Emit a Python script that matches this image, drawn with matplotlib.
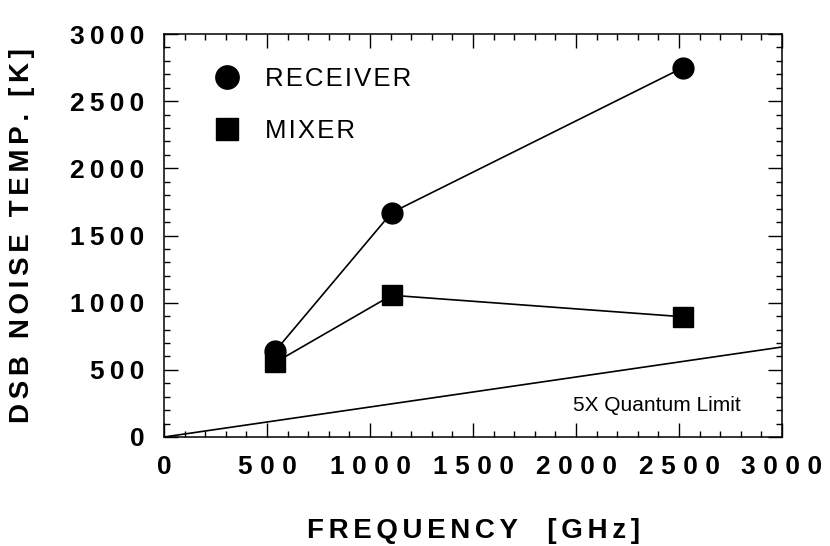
import matplotlib
matplotlib.use("Agg")
import matplotlib.pyplot as plt
from matplotlib.ticker import MultipleLocator, FuncFormatter

# ---- data ----
freq = [540, 1105, 2520]               # GHz
receiver_temp = [640, 1670, 2750]      # K
mixer_temp = [555, 1055, 895]          # K
quantum_freq = [0, 3000]
quantum_temp = [0, 670]                # 5X quantum limit
xlabel = "FREQUENCY  [GHz]"
ylabel = "DSB NOISE TEMP. [K]"
legend_labels = ["RECEIVER", "MIXER"]
quantum_label = "5X Quantum Limit"

THIN = "\u2009"
HAIR = "\u200a"
SIXPM = "\u2006"


def spaced(s, sep=THIN):
    return sep.join(list(s))


plt.rcParams['font.family'] = ['Liberation Sans', 'DejaVu Sans']

fig = plt.figure(figsize=(8.30, 5.46), dpi=100)
ax = fig.add_axes([164 / 830, 1 - 437 / 546, 618 / 830, 403 / 546])

ax.plot(freq, receiver_temp, '-', color='black', lw=1.2, zorder=2)
ax.plot(freq, mixer_temp, '-', color='black', lw=1.2, zorder=2)
h1, = ax.plot(freq, receiver_temp, 'o', color='black', ms=15, zorder=3,
              label=spaced(legend_labels[0], HAIR))
h2, = ax.plot(freq, mixer_temp, 's', color='black', ms=14, zorder=3,
              label=spaced(legend_labels[1], HAIR))
ax.plot(quantum_freq, quantum_temp, '-', color='black', lw=1.2, zorder=2)

ax.text(1985, 231, quantum_label, fontsize=15, va='center', ha='left')

ax.set_xlim(0, 3000)
ax.set_ylim(0, 3000)
ax.xaxis.set_major_locator(MultipleLocator(500))
ax.xaxis.set_minor_locator(MultipleLocator(100))
ax.yaxis.set_major_locator(MultipleLocator(500))
ax.yaxis.set_minor_locator(MultipleLocator(100))

ax.xaxis.set_major_formatter(FuncFormatter(lambda v, p: spaced(str(int(round(v))), THIN + HAIR)))
ax.yaxis.set_major_formatter(FuncFormatter(lambda v, p: spaced(str(int(round(v))), THIN)))

ax.tick_params(which='both', direction='in', top=True, right=True, width=1.0)
ax.tick_params(which='major', length=10)
ax.tick_params(which='minor', length=4)
ax.tick_params(axis='x', which='major', pad=13, labelsize=19)
ax.tick_params(axis='y', which='major', pad=14, labelsize=19)
for lab in ax.get_xticklabels() + ax.get_yticklabels():
    lab.set_fontweight('bold')

for sp in ax.spines.values():
    sp.set_linewidth(1.1)

ax.set_xlabel(spaced(xlabel, SIXPM), fontsize=20, fontweight='bold', labelpad=28)
ax.set_ylabel(spaced(ylabel, SIXPM), fontsize=20, fontweight='bold', labelpad=25)

leg = ax.legend(handles=[h1, h2], loc='upper left', bbox_to_anchor=(0.081, 0.918),
                frameon=False, fontsize=18.5, handlelength=1.0, handletextpad=1.0,
                labelspacing=1.1, markerscale=1.12, numpoints=1,
                borderpad=0, borderaxespad=0)

fig.savefig("out.png", dpi=100)
